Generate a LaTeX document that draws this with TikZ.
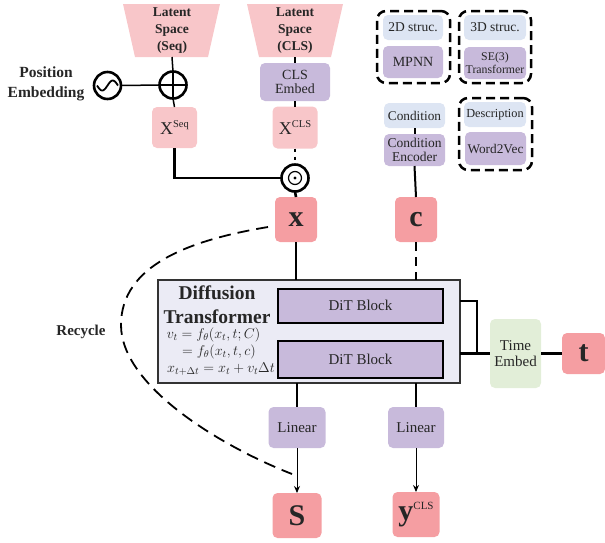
\RequirePackage{fix-cm}
\documentclass[tikz,border=0pt]{standalone}
\usepackage{fontspec}
\setmainfont{Liberation Serif}
\usetikzlibrary{arrows.meta}
\definecolor{lpink}{HTML}{F8C6C9}
\definecolor{dpink}{HTML}{F59EA2}
\definecolor{lpurp}{HTML}{C8BADB}
\definecolor{lblue}{HTML}{DDE5F3}
\definecolor{lgreen}{HTML}{E2EED8}
\definecolor{ditbg}{HTML}{EBEBF5}
\definecolor{txt}{HTML}{262626}
\newcommand{\fs}[1]{\fontsize{#1}{\dimexpr #1pt*6/5\relax}\selectfont}
\begin{document}
\begin{tikzpicture}[x=1pt,y=-1pt,
  every node/.style={inner sep=0pt, outer sep=0pt, align=center, text=txt},
  bx/.style={rounded corners=5pt, draw=none},
  grp/.style={draw=black, line width=2.5pt, dash pattern=on 9pt off 5pt, rounded corners=9pt, fill=none},
  thinl/.style={line width=1.5pt, draw=black},
  thickl/.style={line width=2.6pt, draw=black},
  arr/.style={line width=1pt, -{Stealth[length=7pt,width=6pt]}},
  big/.style={font=\fontsize{30}{30}\selectfont\bfseries}
]
\useasboundingbox (0,0) rectangle (605,542);

% ---- latent spaces
\fill[lpink] (123,4) -- (220,4) -- (208,57) -- (135,57) -- cycle;
\fill[lpink] (247,4) -- (343,4) -- (331,57) -- (259,57) -- cycle;
\node[font=\fontsize{13.5}{17}\selectfont\bfseries] (lseq) at (172,31) {Latent\\Space\\(Seq)};
\node[font=\fontsize{13.5}{17}\selectfont\bfseries] (lcls) at (295,31) {Latent\\Space\\(CLS)};
\coordinate (lseqB) at (172,57);
\coordinate (lclsB) at (295,57);

% ---- operators
\node[circle, draw=black, line width=2.6pt, minimum size=27pt] (pe) at (107.5,85.5) {};
\draw[line width=1.8pt, shift={(pe.center)}, domain=-10.5:10.5, samples=40, smooth] plot (\x, {-5*sin(\x*180/10.5)});
\node[circle, draw=black, line width=2.6pt, minimum size=27pt] (plus) at (173,85) {};
\draw[thickl] (plus.north) -- (plus.south) (plus.west) -- (plus.east);
\node[circle, draw=black, line width=2.6pt, minimum size=27pt] (odot) at (295,178) {};
\node[circle, draw=black, line width=1.2pt, minimum size=13pt] (odin) at (295,178) {};
\fill[black] (odin.center) circle (1.6pt);
\node[font=\fontsize{15.5}{20}\selectfont\bfseries] (pelab) at (46,84) {Position\\Embedding};

% ---- sequence / cls branch
\node[bx, fill=lpurp, minimum width=70pt, minimum height=38pt, font=\fs{14}] (clsemb) at (295,82) {CLS\\[-2pt]Embed};
\node[bx, fill=lpink, minimum width=45pt, minimum height=41pt, font=\fs{18}] (xseq) at (174.5,127.5) {X\raisebox{7pt}{\fs{10.5}Seq}};
\node[bx, fill=lpink, minimum width=45pt, minimum height=42pt, font=\fs{18}] (xcls) at (295,127.5) {X\raisebox{7pt}{\fs{10.5}CLS}};

\node[bx, fill=dpink, minimum width=42pt, minimum height=45pt, big] (xnode) at (296,219.5) {x};
\node[bx, fill=dpink, minimum width=42pt, minimum height=45pt, big] (cnode) at (416,219.5) {c};

% ---- condition side
\node[bx, fill=lblue, minimum width=61pt, minimum height=25pt, font=\fs{13.3}] (cond) at (414.5,115.5) {Condition};
\node[bx, fill=lpurp, minimum width=61pt, minimum height=32pt, font=\fs{13.5}] (condenc) at (414.5,150) {Condition\\[-2pt]Encoder};

\node[bx, fill=lblue, minimum width=60pt, minimum height=25pt, font=\fs{13.5}] (s2d) at (413,27.5) {2D struc.};
\node[bx, fill=lpurp, minimum width=60pt, minimum height=32pt, font=\fs{14}] (mpnn) at (413,62) {MPNN};
\node[bx, fill=lblue, minimum width=62pt, minimum height=25pt, font=\fs{13.5}] (s3d) at (495,27.5) {3D struc.};
\node[bx, fill=lpurp, minimum width=62pt, minimum height=32pt, font=\fontsize{11.8}{12.5}\selectfont] (se3) at (495,63) {SE(3)\\Transformer};
\node[bx, fill=lblue, minimum width=62pt, minimum height=25pt, font=\fs{12.3}] (desc) at (495,114.5) {Description};
\node[bx, fill=lpurp, minimum width=61pt, minimum height=33pt, font=\fs{13.3}] (w2v) at (495.5,148.5) {Word2Vec};

\node[grp, minimum width=73pt, minimum height=72pt] (g2d) at (413.5,47) {};
\node[grp, minimum width=72pt, minimum height=72pt] (g3d) at (495,47) {};
\node[grp, minimum width=73pt, minimum height=72pt] (gdesc) at (495.5,134) {};

% ---- diffusion transformer
\node[fill=ditbg, draw=black!80, line width=2pt, minimum width=302pt, minimum height=103pt] (dit) at (309,331.5) {};
\node[fill=lpurp, draw=black, line width=2pt, minimum width=165pt, minimum height=34pt, font=\fs{15}] (dit1) at (360.5,305.5) {DiT Block};
\node[fill=lpurp, draw=black, line width=2pt, minimum width=165pt, minimum height=37pt, font=\fs{15}] (dit2) at (360.5,359) {DiT Block};
\node[font=\fontsize{19.5}{24}\selectfont\bfseries] (dtitle) at (217,305) {Diffusion\\Transformer};
\node[font=\fs{14.2}] (f1) at (213.5,335) {$v_t = f_\theta(x_t, t; C)$};
\node[font=\fs{14.2}] (f2) at (219,352) {$= f_\theta(x_t, t, c)$};
\node[font=\fs{14.2}] (f3) at (221,369) {$x_{t+\Delta t} = x_t + v_t\Delta t$};

% ---- time
\node[bx, fill=lgreen, minimum width=51pt, minimum height=69pt, font=\fs{15}] (temb) at (515.5,353.5) {Time\\[-2pt]Embed};
\node[bx, fill=dpink, minimum width=43pt, minimum height=41pt, big] (tnode) at (583.5,353.5) {t};
\coordinate (tu) at (477,301);
\coordinate (tj) at (477,353.5);

% ---- outputs
\node[bx, fill=lpurp, minimum width=57pt, minimum height=41pt, font=\fs{15}] (lin1) at (297,427.5) {Linear};
\node[bx, fill=lpurp, minimum width=56pt, minimum height=41pt, font=\fs{15}] (lin2) at (416,427.5) {Linear};
\node[bx, fill=dpink, minimum width=49pt, minimum height=45pt, big] (snode) at (297,515.5) {S};
\node[bx, fill=dpink, minimum width=47pt, minimum height=45pt, big] (ynode) at (416,514.5) {y\raisebox{11pt}{\fontsize{11}{11}\selectfont\mdseries CLS}};
\node[font=\fs{15}\bfseries] (rec) at (81,332) {Recycle};

% ---- connectors
\draw[thinl] (lseqB) -- (plus.north);
\draw[thinl] (pe.east) -- (plus.west);
\draw[thinl] (plus.south) -- (xseq.north);
\draw[thinl] (lclsB) -- (clsemb.north);
\draw[thinl] (clsemb.south) -- (xcls.north);
\draw[line width=1.3pt, dash pattern=on 3pt off 5pt] (xcls.south) -- (odot.north);
\draw[thickl] (xseq.south) |- (odot.west);
\draw[thickl] (odot.south) -- (xnode.north);
\draw[thickl] (xnode.south) -- (xnode.south |- dit.north);
\draw[line width=2pt] (cond.south) -- (condenc.north);
\draw[line width=2pt] (condenc.south) -- (cnode.north);
\draw[line width=2pt, dash pattern=on 9pt off 6pt] (cnode.south) -- (cnode.south |- dit.north);
\draw[thinl] (dit.east |- tu) -- (tu) -- (tj);
\draw[thickl] (dit.east |- tj) -- (temb.west);
\draw[thickl] (temb.east) -- (tnode.west);
\draw[thickl] (lin1.north |- dit.south) -- (lin1.north);
\draw[thickl] (lin2.north |- dit.south) -- (lin2.north);
\draw[arr] (lin1.south) -- (snode.north);
\draw[arr] (lin2.south) -- (ynode.north);
\coordinate (rcs) at (268,227);
\coordinate (rce) at (292,474);
\draw[line width=1.8pt, dash pattern=on 12pt off 7pt] (rcs) .. controls (190,240) and (121,265) .. (121,325) .. controls (121,385) and (218,445) .. (rce);
\end{tikzpicture}
\end{document}
